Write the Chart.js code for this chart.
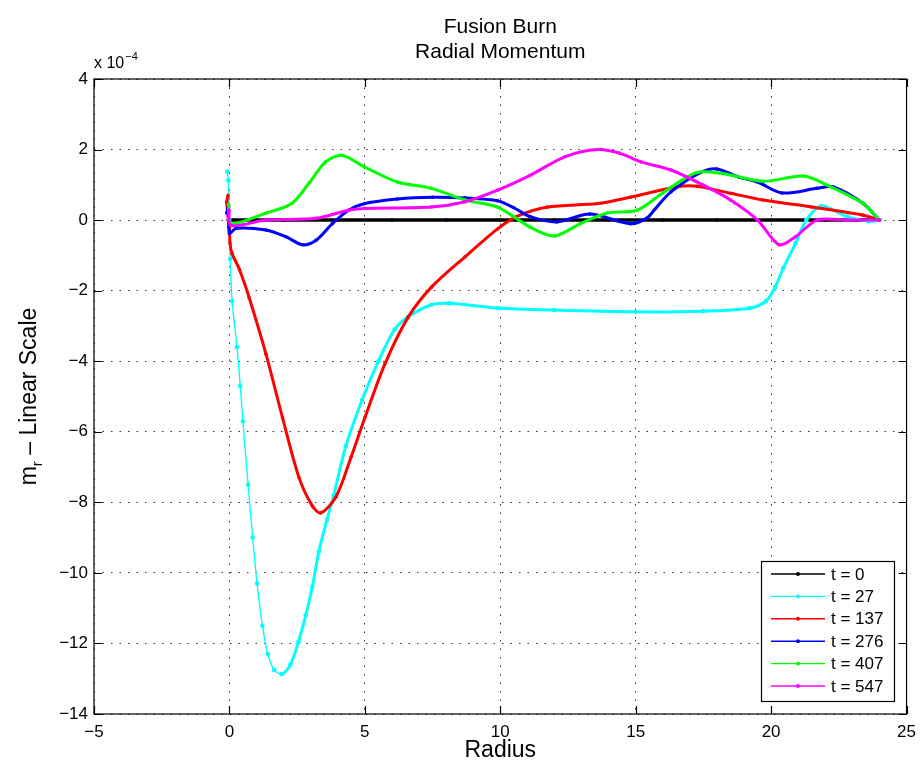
<!DOCTYPE html>
<html>
<head>
<meta charset="utf-8">
<script src="https://cdn.jsdelivr.net/npm/chart.js@4.4.1/dist/chart.umd.min.js"></script>
<style>
  html, body { margin: 0; padding: 0; background: #fff; }
  #wrap { width: 924px; height: 767px; }
</style>
</head>
<body>
<div id="wrap"><canvas id="chart" width="924" height="767"></canvas></div>
<script>
// values (momentum in units of 1e-4)
const xTicks = [-5, 0, 5, 10, 15, 20, 25];
const yTicks = [-14, -12, -10, -8, -6, -4, -2, 0, 2, 4];
const labels = ['t = 0', 't = 27', 't = 137', 't = 276', 't = 407', 't = 547'];
const colors = ['#000000', '#00ffff', '#ff0000', '#0000ff', '#00ff00', '#ff00ff'];

const r0 = [-0.05, 0, 2, 4, 6, 8, 10, 12, 14, 16, 18, 20, 22, 24];
const m0 = [0, 0, 0, 0, 0, 0, 0, 0, 0, 0, 0, 0, 0, 0];

const r27 = [-0.08, -0.04, 0, 0.03, 0.1, 0.28, 0.4, 0.5, 0.69, 0.86, 1.02, 1.22, 1.42, 1.65, 1.93, 2.25, 2.55, 2.82, 3.06, 3.3, 3.6, 3.85, 4.3, 4.9, 5.5, 6.1, 6.6, 7.46, 8.1, 9.9, 12, 15, 17.5, 19.2, 19.8, 20.15, 20.45, 20.9, 21.3, 21.85, 22.8, 23.6, 24];
const m27 = [1.38, 1.13, 0, -1.1, -2.3, -3.6, -4.7, -5.7, -7.5, -9.0, -10.3, -11.5, -12.3, -12.75, -12.87, -12.6, -11.95, -11.2, -10.4, -9.4, -8.5, -7.8, -6.4, -5.1, -4.0, -3.1, -2.74, -2.4, -2.36, -2.49, -2.55, -2.6, -2.58, -2.5, -2.3, -1.9, -1.36, -0.66, 0, 0.4, 0.1, -0.03, 0];

const r137 = [-0.05, -0.1, 0, 0.02, 0.1, 0.37, 0.73, 1.35, 1.96, 2.57, 3.06, 3.37, 3.93, 4.5, 5.0, 5.75, 6.6, 7.46, 8.7, 9.9, 10.6, 11.75, 13.6, 14.8, 16.5, 17.25, 18.5, 19.7, 21.5, 23.4, 24];
const m137 = [0.7, 0.5, -0.2, -0.65, -0.95, -1.4, -2.2, -3.8, -5.6, -7.3, -8.1, -8.3, -7.85, -6.7, -5.6, -4.06, -2.75, -1.9, -1.04, -0.25, 0.1, 0.37, 0.47, 0.65, 0.94, 0.96, 0.76, 0.57, 0.37, 0.14, 0];

const r276 = [-0.1, -0.03, 0, 0.25, 1.35, 2.08, 2.7, 3.2, 3.8, 4.4, 5.0, 6.2, 7.5, 8.7, 9.9, 10.5, 11.1, 12.1, 13.3, 14.8, 15.4, 15.7, 16.3, 17.4, 18.0, 18.8, 19.5, 20.4, 21.7, 22.3, 23.4, 24];
const m276 = [0.2, 0.4, -0.37, -0.23, -0.28, -0.47, -0.7, -0.57, -0.1, 0.28, 0.47, 0.6, 0.65, 0.63, 0.55, 0.35, 0.1, -0.05, 0.17, -0.1, 0.05, 0.3, 0.8, 1.35, 1.45, 1.22, 1.08, 0.77, 0.9, 0.94, 0.47, 0];

const r407 = [-0.03, 0.05, 1.35, 2.3, 2.94, 3.55, 4.15, 5.0, 6.2, 7.46, 8.7, 9.9, 11.1, 12.0, 12.96, 13.95, 15.05, 16.0, 17.25, 18.2, 19.7, 21.2, 22.1, 23.4, 24];
const m407 = [0.45, -0.1, 0.2, 0.47, 1.05, 1.65, 1.84, 1.5, 1.08, 0.9, 0.57, 0.37, -0.2, -0.45, -0.1, 0.2, 0.28, 0.77, 1.35, 1.32, 1.1, 1.25, 0.98, 0.47, 0];

const r547 = [-0.05, -0.02, 0.05, 1.35, 3.2, 4.4, 5.0, 7.46, 8.7, 9.9, 11.1, 12.4, 13.6, 14.4, 15.2, 16.3, 17.5, 18.5, 19.5, 20.3, 20.9, 21.7, 22.8, 24];
const m547 = [0.1, 0.28, -0.15, 0, 0.05, 0.28, 0.33, 0.37, 0.52, 0.85, 1.27, 1.8, 2.0, 1.9, 1.65, 1.42, 0.99, 0.57, 0, -0.7, -0.47, 0, 0, 0];

const radii = [r0, r27, r137, r276, r407, r547];
const moms = [m0, m27, m137, m276, m407, m547];

const FONT = '"Liberation Sans", Arial, Helvetica, sans-serif';
const minus = v => String(v).replace('-', '\u2212');

const datasets = labels.map((lab, i) => ({
  label: lab,
  data: radii[i].map((r, k) => ({ x: r, y: moms[i][k] })),
  borderColor: colors[i],
  backgroundColor: colors[i],
  borderWidth: i === 0 ? 3.5 : 3,
  // the steep early part of t = 27 is sparse in the original: thin line, visible dots
  segment: i === 1 ? { borderWidth: c => (c.p1.parsed.x < 2 ? 1.4 : 3) } : undefined,
  pointRadius: i === 1 ? 2.3 : 1.8,
  pointBorderWidth: 0,
  tension: 0.3,
  fill: false,
  order: labels.length - i
}));

// frame with inward ticks, titles, legend box
const decor = {
  id: 'decor',
  afterDraw(chart) {
    const ctx = chart.ctx;
    const a = chart.chartArea;
    const xs = chart.scales.x, ys = chart.scales.y;
    ctx.save();
    ctx.strokeStyle = '#000';
    ctx.lineWidth = 1.2;
    ctx.strokeRect(a.left, a.top, a.right - a.left, a.bottom - a.top);
    ctx.beginPath();
    xTicks.forEach(t => {
      const px = Math.round(xs.getPixelForValue(t)) + 0.5;
      ctx.moveTo(px, a.bottom); ctx.lineTo(px, a.bottom - 8);
      ctx.moveTo(px, a.top); ctx.lineTo(px, a.top + 8);
    });
    yTicks.forEach(t => {
      const py = Math.round(ys.getPixelForValue(t)) + 0.5;
      ctx.moveTo(a.left, py); ctx.lineTo(a.left + 8, py);
      ctx.moveTo(a.right, py); ctx.lineTo(a.right - 8, py);
    });
    ctx.stroke();

    const cx = (a.left + a.right) / 2;
    ctx.fillStyle = '#000';
    ctx.textAlign = 'center';
    ctx.textBaseline = 'middle';
    ctx.font = '21px ' + FONT;
    ctx.fillText('Fusion Burn', cx, 27);
    ctx.fillText('Radial Momentum', cx, 52);

    ctx.font = '23px ' + FONT;
    ctx.fillText('Radius', cx, 751);

    // exponent label
    ctx.textAlign = 'left';
    ctx.font = '16px ' + FONT;
    ctx.fillText('x 10', 94, 64);
    const w10 = ctx.measureText('x 10').width;
    ctx.font = '11px ' + FONT;
    ctx.fillText('\u22124', 94 + w10 + 1, 57);

    // y axis title with subscript
    ctx.save();
    ctx.translate(30, (a.top + a.bottom) / 2);
    ctx.rotate(-Math.PI / 2);
    ctx.font = '23px ' + FONT;
    const wm = ctx.measureText('m').width;
    const rest = ' \u2013 Linear Scale';
    const wrest = ctx.measureText(rest).width;
    ctx.font = '15px ' + FONT;
    const wr = ctx.measureText('r').width;
    let x0 = -(wm + wr + wrest) / 2;
    ctx.textAlign = 'left';
    ctx.font = '23px ' + FONT;
    ctx.fillText('m', x0, 0);
    ctx.font = '15px ' + FONT;
    ctx.fillText('r', x0 + wm, 8);
    ctx.font = '23px ' + FONT;
    ctx.fillText(rest, x0 + wm + wr, 0);
    ctx.restore();

    // legend
    const lx = 761, ly = 561, lw = 133, lh = 140;
    ctx.fillStyle = '#fff';
    ctx.fillRect(lx, ly, lw, lh);
    ctx.strokeStyle = '#000';
    ctx.lineWidth = 1.2;
    ctx.strokeRect(lx + 0.5, ly + 0.5, lw, lh);
    ctx.font = '17px ' + FONT;
    labels.forEach((lab, i) => {
      const yy = ly + 13 + i * 22.4;
      ctx.strokeStyle = colors[i];
      ctx.lineWidth = 1.4;
      ctx.beginPath();
      ctx.moveTo(771, yy); ctx.lineTo(825, yy);
      ctx.stroke();
      ctx.fillStyle = colors[i];
      ctx.beginPath();
      ctx.arc(798, yy, 2, 0, Math.PI * 2);
      ctx.fill();
      ctx.fillStyle = '#000';
      ctx.textAlign = 'left';
      ctx.fillText(lab, 831, yy + 1);
    });
    ctx.restore();
  }
};

new Chart(document.getElementById('chart').getContext('2d'), {
  type: 'line',
  data: { datasets },
  options: {
    responsive: false,
    animation: false,
    layout: { padding: { left: 0, right: 13, top: 79, bottom: 0 } },
    plugins: { legend: { display: false }, tooltip: { enabled: false } },
    scales: {
      x: {
        type: 'linear',
        min: -5, max: 25,
        afterFit(s) { s.height = 53; },
        afterBuildTicks(s) { s.ticks = xTicks.map(v => ({ value: v })); },
        grid: { color: '#000', lineWidth: 0.8, drawTicks: false },
        border: { display: false, dash: [1.5, 7] },
        ticks: { color: '#000', font: { family: FONT, size: 17 }, padding: 8, callback: v => minus(v) }
      },
      y: {
        min: -14, max: 4,
        afterFit(s) { s.width = 94; },
        afterBuildTicks(s) { s.ticks = yTicks.map(v => ({ value: v })); },
        grid: { color: '#000', lineWidth: 0.8, drawTicks: false },
        border: { display: false, dash: [1.5, 7] },
        ticks: { color: '#000', font: { family: FONT, size: 17 }, padding: 6, callback: v => minus(v) }
      }
    }
  },
  plugins: [decor]
});
</script>
</body>
</html>
